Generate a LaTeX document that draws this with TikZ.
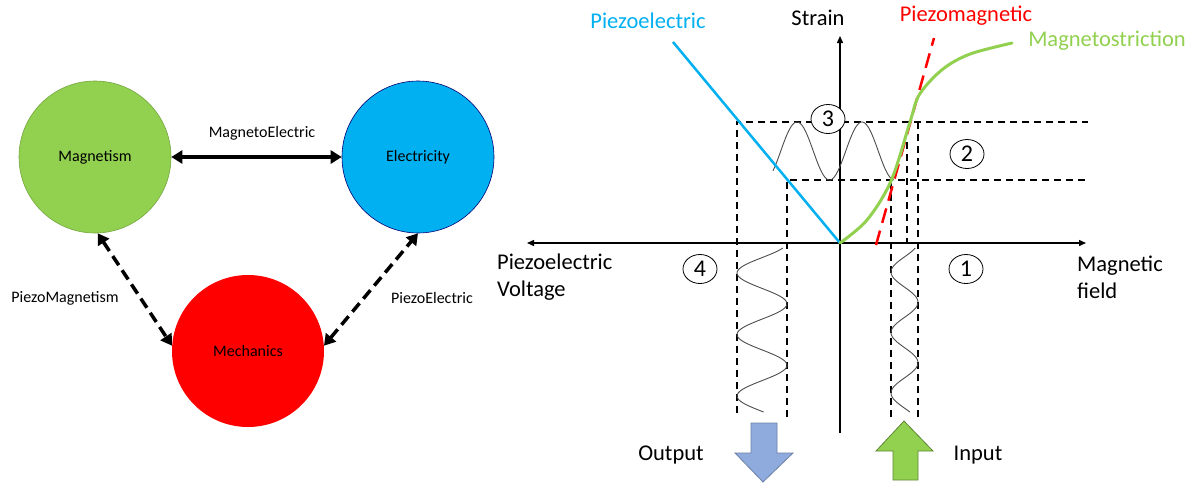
\documentclass[tikz,border=0pt]{standalone}
\usepackage{fontspec}
\setmainfont{Carlito}
\usetikzlibrary{arrows.meta,shapes.geometric}
\definecolor{mgreen}{HTML}{92D050}
\definecolor{mblue}{HTML}{00B0F0}
\definecolor{mred}{HTML}{FF0000}
\definecolor{oblue}{HTML}{8FAADC}
\tikzset{
  ball/.style={circle, minimum size=152pt, inner sep=0pt, font=\fontsize{16}{19}\selectfont},
  lbl/.style={font=\fontsize{16}{19}\selectfont},
  big/.style={font=\fontsize{22.5}{27}\selectfont},
  num/.style={ellipse, draw, line width=0.8pt, fill=white, minimum width=34pt, minimum height=29pt, inner sep=0pt, font=\fontsize{24}{28}\selectfont},
  thickarr/.style={line width=3.5pt, {Triangle[length=11pt,width=13pt]}-{Triangle[length=11pt,width=13pt]}},
  axisline/.style={line width=1.4pt},
  dsh/.style={line width=1.4pt, dash pattern=on 7pt off 5pt},
  wave/.style={draw=black!70, line width=0.9pt},
}
\begin{document}
\begin{tikzpicture}[x=1pt,y=-1pt]
\useasboundingbox (0,0) rectangle (1197,483);
% ---- left: triangle of circles ----
\node[ball, fill=mgreen, draw=mgreen!80!black, line width=0.6pt] (mag) at (95,157) {Magnetism};
\node[ball, fill=mblue, draw=blue!45!black, line width=0.6pt] (ele) at (418,157) {Electricity};
\node[ball, fill=mred] (mec) at (248,351) {Mechanics};
\draw[thickarr] (mag) -- (ele);
\draw[thickarr, dash pattern=on 11pt off 6pt] (mag.-88) -- (mec.176);
\draw[thickarr, dash pattern=on 11pt off 6pt] (mec.4) -- (ele.-90);
\node[lbl] (lME) at (262,133) {MagnetoElectric};
\node[lbl] (lPM) at (65,298) {PiezoMagnetism};
\node[lbl] (lPE) at (432,298) {PiezoElectric};
% ---- right: chart ----
\coordinate (O) at (840,243);
\coordinate (XL) at (527,243);
\coordinate (XR) at (1086,243);
\coordinate (YT) at (840,36);
\coordinate (YB) at (840,433);
% dashed guide lines
\draw[dsh] (737,413) -- (737,122) -- (1088,122);
\draw[dsh] (787,417) -- (787,180) -- (1088,180);
\draw[dsh] (891,417) -- (891,180);
\draw[dsh] (907,142) -- (907,243);
\draw[dsh] (918,417) -- (918,122);
% axes
\draw[axisline, {Triangle[length=7pt,width=6pt]}-{Triangle[length=7pt,width=6pt]}] (XL) -- (XR);
\draw[axisline, -{Triangle[length=7pt,width=6pt]}] (YB) -- (YT);
% waves
\draw[wave] plot[domain=773:894, samples=120] (\x, {151-29*cos((\x-797)*5.5385)});
\draw[wave] plot[domain=248:412, samples=120] ({762-25*cos((\x-273)*5.8537)}, \x);
\draw[wave] plot[domain=248:412, samples=120] ({904.5-13.5*cos((\x-272)*5.9504)}, \x);
% curves
\draw[mblue, line width=2.5pt] (673,42) -- (O);
\draw[mred, line width=2.5pt, dash pattern=on 15pt off 8pt] (876,245) -- (934,38);
\draw[mgreen, line width=3pt, line cap=round] plot[smooth, tension=0.55] coordinates {(840,243) (867,220) (891,181) (910,122) (918,97) (933,78) (950,64) (973,53) (1012,43)};
% circled numbers
\node[num] (n3) at (828,119) {3};
\node[num] (n2) at (967,154) {2};
\node[num] (n1) at (966,269) {1};
\node[num] (n4) at (700,269) {4};
% labels
\node[big] (tStrain) at (818,18) {Strain};
\node[big, text=mblue] (tPE) at (648,21) {Piezoelectric};
\node[big, text=mred] (tPM) at (966,16) {Piezomagnetic};
\node[big, text=mgreen] (tMS) at (1107,41) {Magnetostriction};
\node[big, anchor=west, align=left, inner sep=0pt] (tPV) at (497,277) {Piezoelectric\\Voltage};
\node[big, anchor=west, align=left, inner sep=0pt] (tMF) at (1077,277) {Magnetic\\field};
\node[big] (tOut) at (671,455) {Output};
\node[big] (tIn) at (978,455) {Input};
% big arrows
\draw[draw=oblue!75!black, fill=oblue, line width=0.8pt] (751,423) -- (777,423) -- (777,453) -- (793,453) -- (763,482) -- (735,453) -- (751,453) -- cycle;
\draw[draw=mgreen!65!black, fill=mgreen, line width=0.8pt] (904,421) -- (933,451) -- (918,451) -- (918,480) -- (893,480) -- (893,451) -- (876,451) -- cycle;
\end{tikzpicture}
\end{document}
